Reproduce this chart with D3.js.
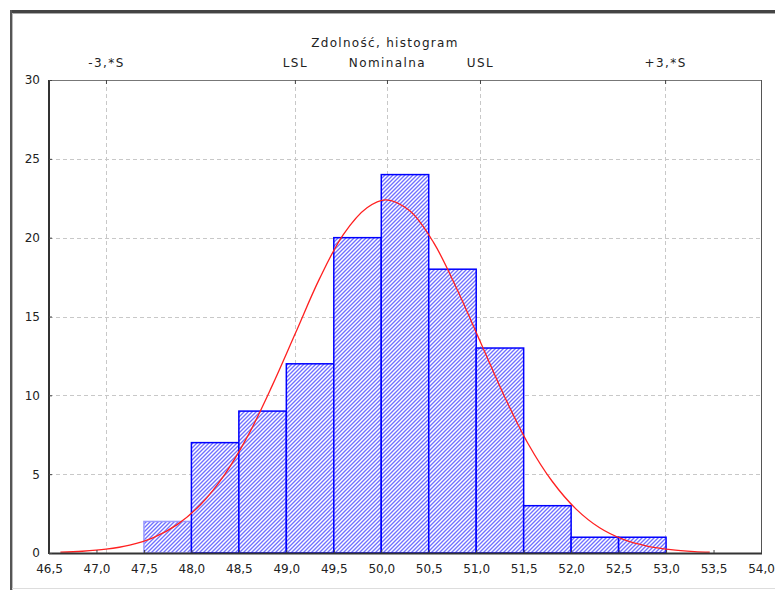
<!DOCTYPE html>
<html>
<head>
<meta charset="utf-8">
<script src="https://cdn.jsdelivr.net/npm/d3@7"></script>
<style>
  html, body { margin: 0; padding: 0; background: #fff; }
  svg { display: block; font-family: "DejaVu Sans", Arial, sans-serif; }
</style>
</head>
<body>
<svg id="chart" width="775" height="590"></svg>
<script>
// ---- data ----
const binStarts = [47.5, 48.0, 48.5, 49.0, 49.5, 50.0, 50.5, 51.0, 51.5, 52.0, 52.5];
const binWidth = 0.5;
const counts = [2, 7, 9, 12, 20, 24, 18, 13, 3, 1, 1];
const curveX = [46.62, 46.85, 47.1, 47.35, 47.6, 47.85, 48.1, 48.35, 48.6, 48.85, 49.1, 49.35, 49.6, 49.85, 50.05, 50.3, 50.55, 50.8, 51.05, 51.3, 51.55, 51.8, 52.05, 52.3, 52.55, 52.8, 53.05, 53.3, 53.46];
const curveY = [0.05, 0.11, 0.24, 0.5, 0.98, 1.8, 3.09, 4.97, 7.49, 10.6, 14.0, 17.4, 20.2, 21.9, 22.4, 21.7, 19.7, 16.7, 13.3, 9.9, 6.9, 4.55, 2.8, 1.6, 0.86, 0.44, 0.21, 0.09, 0.05];
const xTicks = [46.5, 47.0, 47.5, 48.0, 48.5, 49.0, 49.5, 50.0, 50.5, 51.0, 51.5, 52.0, 52.5, 53.0, 53.5, 54.0];
const yTicks = [0, 5, 10, 15, 20, 25, 30];
const refLabels = ["-3,*S", "LSL", "Nominalna", "USL", "+3,*S"];
const refValues = [47.1, 49.09, 50.06, 51.04, 52.99];
const title = "Zdolność, histogram";

// ---- layout ----
const svg = d3.select("#chart");
const L = 49, R = 761, T = 80, B = 553;
const x = d3.scaleLinear().domain([46.5, 54]).range([L, R]);
const y = d3.scaleLinear().domain([0, 30]).range([B, T]);
const fmt = d => d.toFixed(1).replace(".", ",");
const FONT = "'DejaVu Sans', Arial, sans-serif";

// outer frame
svg.append("rect").attr("x", 0).attr("y", 0).attr("width", 775).attr("height", 590).attr("fill", "#fff");
svg.append("line").attr("x1", 10).attr("x2", 775).attr("y1", 11.5).attr("y2", 11.5).attr("stroke", "#444").attr("stroke-width", 3);
svg.append("line").attr("x1", 10).attr("x2", 775).attr("y1", 13.5).attr("y2", 13.5).attr("stroke", "#aaa").attr("stroke-width", 1);
svg.append("line").attr("x1", 11).attr("x2", 11).attr("y1", 10).attr("y2", 590).attr("stroke", "#555").attr("stroke-width", 2);
svg.append("line").attr("x1", 12.5).attr("x2", 12.5).attr("y1", 13).attr("y2", 590).attr("stroke", "#bbb").attr("stroke-width", 1);
svg.append("line").attr("x1", 12).attr("x2", 775).attr("y1", 588.5).attr("y2", 588.5).attr("stroke", "#ddd").attr("stroke-width", 1);

// dithered hatch pattern
const defs = svg.append("defs");
const pat = defs.append("pattern").attr("id", "hatch").attr("patternUnits", "userSpaceOnUse")
  .attr("width", 4).attr("height", 4);
pat.append("rect").attr("width", 4).attr("height", 4).attr("fill", "#ffffff");
const cells = [[0,0],[2,0],[1,1],[3,1],[0,2],[2,2],[1,3],[3,3]];
cells.forEach(c => pat.append("rect").attr("x", c[0]).attr("y", c[1]).attr("width", 1).attr("height", 1).attr("fill", "#bcbcff"));
[[3,0],[2,1],[1,2],[0,3]].forEach(c => pat.append("rect").attr("x", c[0]).attr("y", c[1]).attr("width", 1).attr("height", 1).attr("fill", "#7070ff"));

// grid
const grid = svg.append("g");
grid.selectAll("line.h").data(yTicks.filter(d => d > 0 && d < 30)).enter().append("line")
  .attr("x1", L).attr("x2", R).attr("y1", d => Math.round(y(d)) + 0.5).attr("y2", d => Math.round(y(d)) + 0.5)
  .attr("stroke", "#c8c8c8").attr("stroke-dasharray", "4,3");
grid.selectAll("line.v").data(refValues).enter().append("line")
  .attr("x1", d => Math.round(x(d)) + 0.5).attr("x2", d => Math.round(x(d)) + 0.5).attr("y1", T).attr("y2", B)
  .attr("stroke", "#c8c8c8").attr("stroke-dasharray", "4,3");

// bars
svg.append("g").selectAll("rect").data(counts).enter().append("rect")
  .attr("x", (d, i) => x(binStarts[i]))
  .attr("y", d => y(d))
  .attr("width", (d, i) => x(binStarts[i] + binWidth) - x(binStarts[i]))
  .attr("height", d => B - y(d))
  .attr("fill", "url(#hatch)")
  .attr("stroke", (d, i) => i === 0 ? "#9a9aff" : "#0000ff")
  .attr("stroke-width", 1.5);

// curve
svg.append("path").datum(curveX.map((v, i) => [v, curveY[i]]))
  .attr("d", d3.line().x(d => x(d[0])).y(d => y(d[1])).curve(d3.curveCatmullRom))
  .attr("fill", "none").attr("stroke", "#ff2020").attr("stroke-width", 1.3);

// plot border
svg.append("line").attr("x1", L).attr("x2", R).attr("y1", T + 0.5).attr("y2", T + 0.5).attr("stroke", "#777");
svg.append("line").attr("x1", R + 0.5).attr("x2", R + 0.5).attr("y1", T).attr("y2", B).attr("stroke", "#555");
svg.append("line").attr("x1", L).attr("x2", L).attr("y1", T).attr("y2", B + 1).attr("stroke", "#333").attr("stroke-width", 2);
svg.append("line").attr("x1", L).attr("x2", R + 1).attr("y1", B + 0.5).attr("y2", B + 0.5).attr("stroke", "#333").attr("stroke-width", 2);

// axes
const yAxis = d3.axisLeft(y).tickValues(yTicks).tickSize(-3).tickPadding(10).tickFormat(d3.format("d"));
const gy = svg.append("g").attr("transform", `translate(${L},0)`).call(yAxis);
const xAxis = d3.axisBottom(x).tickValues(xTicks).tickSize(-3).tickPadding(11).tickFormat(fmt);
const gx = svg.append("g").attr("transform", `translate(0,${B})`).call(xAxis);
const xTop = d3.axisTop(x).tickValues(refValues).tickSize(-4).tickPadding(13).tickFormat((d, i) => refLabels[i]);
const gt = svg.append("g").attr("transform", `translate(0,${T})`).call(xTop);
[gy, gx, gt].forEach(g => {
  g.select(".domain").remove();
  g.selectAll(".tick line").attr("stroke", "#444");
  g.selectAll(".tick text").attr("fill", "#222").style("font-size", "12px").style("font-family", FONT);
});
gy.selectAll(".tick text").attr("x", -9);
gt.selectAll(".tick text").style("letter-spacing", "1.4px");

// title
svg.append("text").attr("x", 385).attr("y", 47).attr("text-anchor", "middle")
  .attr("fill", "#222").style("font-size", "12px").style("font-family", FONT)
  .style("letter-spacing", "1.3px").text(title);
</script>
</body>
</html>
